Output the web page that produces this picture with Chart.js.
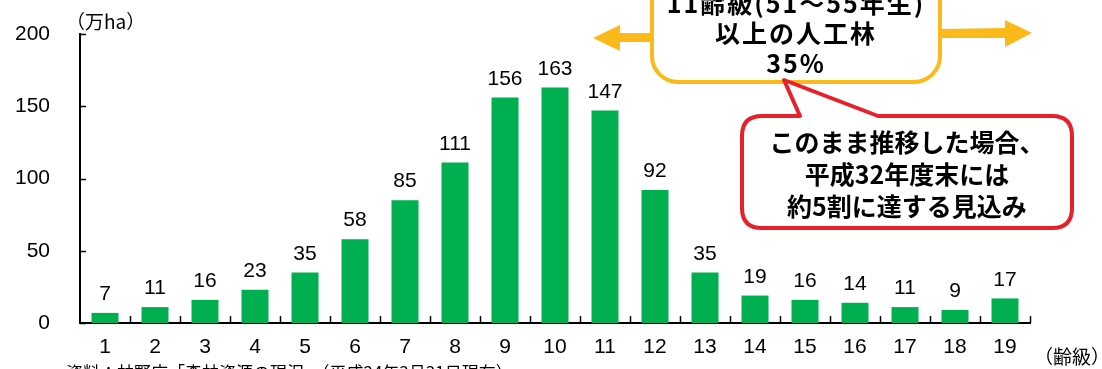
<!DOCTYPE html>
<html>
<head>
<meta charset="utf-8">
<script src="https://cdn.jsdelivr.net/npm/chart.js@4/dist/chart.umd.min.js"></script>
<style>
    html, body { margin: 0; padding: 0; background: #fff; }
    #wrap { position: relative; width: 1102px; height: 369px; overflow: hidden; }
    #c { position: absolute; left: 0; top: 0; }
    svg { position: absolute; left: 0; top: 0; }
    .t { position: absolute; white-space: nowrap; color: #000; font-family: "Noto Sans CJK JP", sans-serif; }
    .b { font-weight: bold; text-align: center; font-size: 25px; }
</style>
</head>
<body>
<div id="wrap">
    <canvas id="c" width="1102" height="369"></canvas>
    <svg width="1102" height="369">
        <!-- yellow arrows and box -->
        <polygon points="652,33 620,33 620,25 593,38 620,51 620,42 652,42" fill="#FBBA1A"/>
        <polygon points="938,29 1005,28 1005,20 1032,33 1005,47 1005,38 938,38" fill="#FBBA1A"/>
        <rect x="652" y="-30" width="288" height="112" rx="26" ry="26" fill="#fff" stroke="#FBBA1A" stroke-width="4"/>
        <!-- red callout -->
        <path d="M 762 116 L 800 116 L 784 80 L 878 116 L 1052 116 Q 1072 116 1072 136 L 1072 208 Q 1072 228 1052 228 L 762 228 Q 742 228 742 208 L 742 136 Q 742 116 762 116 Z"
              fill="#fff" stroke="#E8202A" stroke-width="4" stroke-linejoin="round"/>
    </svg>
    <div class="t" style="left:66px; top:7px; font-size:19px;">（万ha）</div>
    <div class="t" style="left:1034px; top:342px; font-size:19px;">（齢級）</div>
    <div class="t" style="left:66px; top:359px; font-size:17px;">資料：林野庁「森林資源の現況」（平成24年3月31日現在）</div>
    <div class="t b" style="left:652px; width:288px; top:-13px; line-height:30px; letter-spacing:2px;">11齢級(51〜55年生)<br>以上の人工林<br>35%</div>
    <div class="t b" style="left:742px; width:330px; top:125px; line-height:32px;">このまま推移した場合、<br>平成32年度末には<br>約5割に達する見込み</div>
</div>
<script>
const ageClasses = ["1", "2", "3", "4", "5", "6", "7", "8", "9", "10", "11", "12", "13", "14", "15", "16", "17", "18", "19"];
const plantedArea = [7, 11, 16, 23, 35, 58, 85, 111, 156, 163, 147, 92, 35, 19, 16, 14, 11, 9, 17];
const yTicks = [0, 50, 100, 150, 200];

const numFont = '"Liberation Sans", Arial, sans-serif';

// value labels above the bars and inward tick marks
const extras = {
    id: "extras",
    afterDatasetsDraw(chart) {
        const ctx = chart.ctx;
        const meta = chart.getDatasetMeta(0);
        ctx.save();
        ctx.fillStyle = "#000";
        ctx.font = "21px " + numFont;
        ctx.textAlign = "center";
        ctx.textBaseline = "bottom";
        meta.data.forEach((bar, i) => {
            ctx.fillText(String(plantedArea[i]), bar.x, bar.y - 8);
        });
        const x = chart.scales.x;
        const y = chart.scales.y;
        ctx.strokeStyle = "#000";
        ctx.lineWidth = 1.5;
        ctx.beginPath();
        yTicks.forEach((v) => {
            const py = Math.round(y.getPixelForValue(v)) + 0.5;
            ctx.moveTo(x.left, py);
            ctx.lineTo(x.left + 6, py);
        });
        for (let i = 1; i <= ageClasses.length; i++) {
            const px = Math.round(x.getPixelForValue(i - 0.5)) + 0.5;
            ctx.moveTo(px, y.bottom);
            ctx.lineTo(px, y.bottom - 7);
        }
        ctx.stroke();
        ctx.restore();
    }
};

new Chart(document.getElementById("c"), {
    type: "bar",
    data: {
        labels: ageClasses,
        datasets: [{
            data: plantedArea,
            backgroundColor: "#00B050",
            barPercentage: 0.54,
            categoryPercentage: 1.0
        }]
    },
    options: {
        responsive: false,
        animation: false,
        events: [],
        layout: { padding: { left: 0, right: 72, top: 34, bottom: 0 } },
        plugins: { legend: { display: false }, tooltip: { enabled: false } },
        scales: {
            x: {
                grid: { display: false, drawTicks: false },
                border: { color: "#000", width: 2 },
                ticks: { color: "#000", padding: 12, font: { size: 21, family: numFont } },
                afterFit: (s) => { s.height = 46; s.paddingLeft = 0; s.paddingRight = 0; }
            },
            y: {
                min: 0,
                max: 200,
                afterBuildTicks: (s) => { s.ticks = yTicks.map((v) => ({ value: v })); },
                grid: { display: false, drawTicks: false },
                border: { color: "#000", width: 2 },
                ticks: { color: "#000", padding: 30, font: { size: 21, family: numFont } },
                // keep the label overflow from pushing the plot top down
                afterFit: (s) => { s.width = 80; s.paddingTop = 0; s.paddingBottom = 0; }
            }
        }
    },
    plugins: [extras]
});
</script>
</body>
</html>
